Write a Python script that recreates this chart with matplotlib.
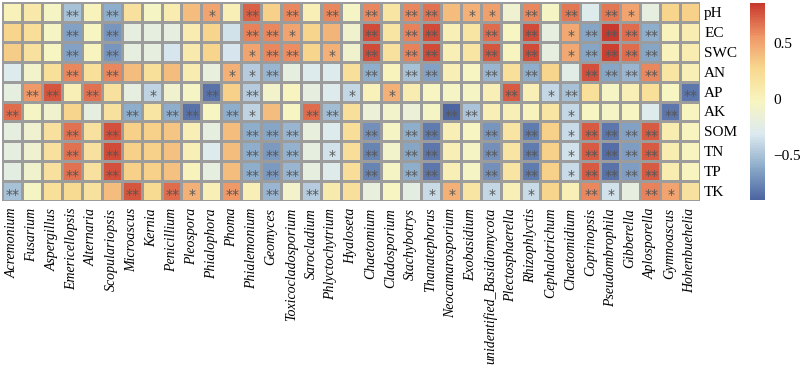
import numpy as np
import matplotlib
matplotlib.use("Agg")
import matplotlib.pyplot as plt
from matplotlib.colors import LinearSegmentedColormap, Normalize

genera = ["Acremonium", "Fusarium", "Aspergillus", "Emericellopsis", "Alternaria",
          "Scopulariopsis", "Microascus", "Kernia", "Penicillium", "Pleospora",
          "Phialophora", "Phoma", "Phialemonium", "Geomyces", "Toxicocladosporium",
          "Sarocladium", "Phlyctochytrium", "Hyaloseta", "Chaetomium", "Cladosporium",
          "Stachybotrys", "Thanatephorus", "Neocamarosporium", "Exobasidium",
          "unidentified_Basidiomycota", "Plectosphaerella", "Rhizophlyctis",
          "Cephalotrichum", "Chaetomidium", "Coprinopsis", "Pseudombrophila",
          "Gibberella", "Aplosporella", "Gymnoascus", "Hohenbuehelia"]
factors = ["pH", "EC", "SWC", "AN", "AP", "AK", "SOM", "TN", "TP", "TK"]

r_pH  = [0.02, 0.12, -0.05, -0.5, 0.0, -0.6, 0.18, -0.05, 0.08, 0.4, 0.5, 0.05, 0.72, 0.3, 0.6, 0.05, 0.6, -0.05,
         0.6, 0.15, 0.6, 0.68, 0.4, 0.45, 0.52, -0.12, 0.6, -0.05, 0.66, -0.3, 0.65, 0.5, -0.2, 0.28, 0.3]
r_EC  = [0.28, 0.22, -0.05, -0.65, -0.03, -0.7, -0.2, -0.2, -0.2, 0.08, 0.28, -0.35, 0.62, 0.6, 0.5, 0.28, 0.42, -0.1,
         0.8, 0.15, 0.62, 0.8, 0.05, 0.15, 0.7, -0.03, 0.8, -0.2, 0.48, -0.62, 0.86, 0.7, -0.6, 0.0, 0.08]
r_SWC = [0.32, 0.18, -0.03, -0.65, -0.02, -0.7, -0.2, -0.2, -0.32, 0.1, 0.28, -0.33, 0.5, 0.6, 0.58, 0.28, 0.45, -0.1,
         0.8, 0.18, 0.62, 0.8, 0.05, 0.15, 0.76, -0.02, 0.8, -0.2, 0.48, -0.62, 0.84, 0.7, -0.62, 0.0, 0.08]
r_AN  = [-0.3, -0.08, 0.2, 0.6, 0.2, 0.6, 0.4, 0.2, 0.4, 0.08, -0.18, 0.45, -0.45, -0.55, -0.2, -0.3, -0.3, 0.2,
         -0.6, 0.0, -0.5, -0.65, 0.05, -0.03, -0.55, 0.2, -0.6, 0.28, -0.25, 0.78, -0.62, -0.55, 0.6, 0.15, 0.05]
r_AP  = [-0.2, 0.55, 0.76, 0.05, 0.68, 0.18, -0.2, -0.42, -0.1, -0.05, -0.84, 0.3, -0.45, -0.08, -0.02, -0.2, -0.3, -0.4,
         0.03, 0.45, 0.08, -0.03, -0.05, -0.05, 0.05, 0.74, 0.05, -0.4, -0.5, 0.2, -0.05, 0.05, 0.2, -0.03, -0.82]
r_AK  = [0.7, -0.05, -0.1, 0.28, -0.2, 0.18, -0.6, 0.15, -0.6, -0.84, -0.03, -0.6, -0.42, 0.4, -0.03, 0.7, -0.52, 0.2,
         -0.15, -0.08, -0.15, -0.05, -0.9, -0.48, 0.05, 0.05, 0.0, 0.15, -0.4, -0.03, -0.05, -0.03, -0.3, -0.82, -0.02]
r_SOM = [-0.2, -0.12, 0.18, 0.68, 0.18, 0.78, 0.3, 0.3, 0.35, 0.05, -0.2, 0.4, -0.6, -0.62, -0.55, -0.18, -0.3, 0.22,
         -0.72, -0.05, -0.6, -0.8, 0.05, -0.03, -0.7, 0.15, -0.8, 0.3, -0.38, 0.74, -0.82, -0.65, 0.74, 0.08, -0.02]
r_TN  = [-0.2, -0.12, 0.18, 0.68, 0.18, 0.8, 0.3, 0.3, 0.38, 0.05, -0.3, 0.4, -0.6, -0.68, -0.58, -0.2, -0.35, 0.22,
         -0.76, -0.08, -0.62, -0.82, 0.05, -0.05, -0.72, 0.15, -0.8, 0.3, -0.35, 0.74, -0.86, -0.66, 0.74, 0.08, -0.02]
r_TP  = [-0.22, -0.1, 0.18, 0.68, 0.18, 0.78, 0.3, 0.3, 0.38, 0.0, -0.2, 0.4, -0.6, -0.68, -0.55, -0.2, -0.28, 0.22,
         -0.76, -0.05, -0.6, -0.82, 0.05, -0.05, -0.72, 0.15, -0.8, 0.3, -0.38, 0.74, -0.84, -0.66, 0.74, 0.08, -0.02]
r_TK  = [-0.5, -0.05, 0.2, 0.25, 0.18, 0.4, 0.76, 0.25, 0.7, 0.45, 0.05, 0.56, 0.05, -0.55, -0.08, -0.45, 0.1, 0.2,
         -0.18, -0.03, -0.22, -0.38, 0.45, 0.15, -0.4, 0.05, -0.38, 0.28, 0.05, 0.6, -0.35, -0.2, 0.62, 0.5, 0.18]

s_pH  = ["", "", "", "**", "", "**", "", "", "", "", "*", "", "**", "", "**", "", "**", "",
         "**", "", "**", "**", "", "*", "*", "", "**", "", "**", "", "**", "*", "", "", ""]
s_EC  = ["", "", "", "**", "", "**", "", "", "", "", "", "", "**", "**", "*", "", "", "",
         "**", "", "**", "**", "", "", "**", "", "**", "", "*", "**", "**", "**", "**", "", ""]
s_SWC = ["", "", "", "**", "", "**", "", "", "", "", "", "", "*", "**", "**", "", "*", "",
         "**", "", "**", "**", "", "", "**", "", "**", "", "*", "**", "**", "**", "**", "", ""]
s_AN  = ["", "", "", "**", "", "**", "", "", "", "", "", "*", "*", "**", "", "", "", "",
         "**", "", "**", "**", "", "", "**", "", "**", "", "", "**", "**", "**", "**", "", ""]
s_AP  = ["", "**", "**", "", "**", "", "", "*", "", "", "**", "", "**", "", "", "", "", "*",
         "", "*", "", "", "", "", "", "**", "", "*", "**", "", "", "", "", "", "**"]
s_AK  = ["**", "", "", "", "", "", "**", "", "**", "**", "", "**", "*", "", "", "**", "**", "",
         "", "", "", "", "**", "**", "", "", "", "", "*", "", "", "", "", "**", ""]
s_SOM = ["", "", "", "**", "", "**", "", "", "", "", "", "", "**", "**", "**", "", "", "",
         "**", "", "**", "**", "", "", "**", "", "**", "", "*", "**", "**", "**", "**", "", ""]
s_TN  = ["", "", "", "**", "", "**", "", "", "", "", "", "", "**", "**", "**", "", "*", "",
         "**", "", "**", "**", "", "", "**", "", "**", "", "*", "**", "**", "**", "**", "", ""]
s_TP  = ["", "", "", "**", "", "**", "", "", "", "", "", "", "**", "**", "**", "", "", "",
         "**", "", "**", "**", "", "", "**", "", "**", "", "*", "**", "**", "**", "**", "", ""]
s_TK  = ["**", "", "", "", "", "", "**", "", "**", "*", "", "**", "", "**", "", "**", "", "",
         "", "", "", "*", "*", "", "*", "", "*", "", "", "**", "*", "", "**", "*", ""]

corr = np.array([r_pH, r_EC, r_SWC, r_AN, r_AP, r_AK, r_SOM, r_TN, r_TP, r_TK])
sig = [s_pH, s_EC, s_SWC, s_AN, s_AP, s_AK, s_SOM, s_TN, s_TP, s_TK]

cmap = LinearSegmentedColormap.from_list(
    "rdylbu_r_muted",
    ["#4D66A2", "#8DACCA", "#DCEAF0", "#F8F5C0", "#F8D98F", "#EF9667", "#C93A2E"], N=100)
norm = Normalize(vmin=corr.min(), vmax=corr.max())

W, H = 800, 371
fig = plt.figure(figsize=(W / 100, H / 100), dpi=100)
ax = fig.add_axes([2 / W, 1 - 201 / H, 698 / W, 199 / H])
nr, nc = corr.shape
mesh = ax.pcolormesh(np.arange(nc + 1), np.arange(nr + 1), corr, cmap=cmap, norm=norm,
                     edgecolors="#9c9c9c", linewidth=1.8)
ax.set_xlim(0, nc)
ax.set_ylim(nr, 0)
for s in ax.spines.values():
    s.set_visible(False)

for i in range(nr):
    for j in range(nc):
        if sig[i][j]:
            ax.text(j + 0.55, i + 0.72, sig[i][j], ha="center", va="center",
                    fontsize=10, color="#555555", family="DejaVu Sans")

ax.set_xticks(np.arange(nc) + 0.5)
ax.set_xticklabels(genera, rotation=90, family="Liberation Serif", style="italic", fontsize=10)
ax.set_yticks(np.arange(nr) + 0.5)
ax.set_yticklabels(factors, family="Liberation Serif", fontsize=11)
ax.yaxis.tick_right()
ax.tick_params(axis="x", length=0, pad=5)
ax.tick_params(axis="y", length=0, pad=3)

cax = fig.add_axes([750 / W, 1 - 200 / H, 15 / W, 197 / H])
cb = fig.colorbar(mesh, cax=cax)
cb.outline.set_visible(False)
cb.set_ticks([-0.5, 0, 0.5])
cb.set_ticklabels(["\u22120.5", "0", "0.5"])
cax.tick_params(length=0, pad=6)
for t in cax.get_yticklabels():
    t.set_family("Liberation Serif")
    t.set_fontsize(11)

fig.savefig("out.png", dpi=100)
